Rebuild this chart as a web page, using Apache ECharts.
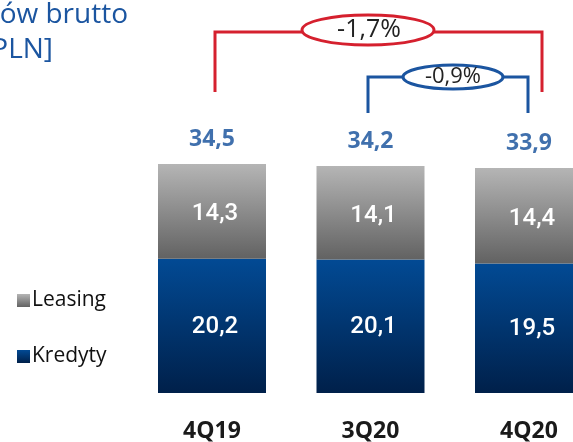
<!DOCTYPE html>
<html>
<head>
<meta charset="utf-8">
<script src="https://cdn.jsdelivr.net/npm/echarts@6/dist/echarts.min.js"></script>
<style>
html,body{margin:0;padding:0;background:#fff;}
#main{width:573px;height:442px;}
</style>
</head>
<body>
<div id="main"></div>
<script>
var categories = ['4Q19', '3Q20', '4Q20'];
var kredyty = [20.2, 20.1, 19.5];
var leasing = [14.3, 14.1, 14.4];
var totals = [34.5, 34.2, 33.9];
var changeAll = '-1,7%';
var changeQoQ = '-0,9%';

function fmt(v) { return v.toFixed(1).replace('.', ','); }

var chart = echarts.init(document.getElementById('main'));
var RED = '#d5202e', BLUE = '#1b55a0';

chart.setOption({
  animation: false,
  grid: { left: 132.75, width: 475.5, top: 61, height: 332, containLabel: false, outerBoundsMode: 'none' },
  xAxis: {
    type: 'category',
    data: categories,
    axisLine: { show: false },
    axisTick: { show: false },
    axisLabel: { margin: 27, fontSize: 23, fontWeight: 'bold', color: '#1a1a1a', fontFamily: 'Open Sans' }
  },
  yAxis: { type: 'value', min: 0, max: 50, show: false, splitLine: { show: false } },
  legend: {
    data: ['Leasing', 'Kredyty'],
    orient: 'vertical',
    left: 12, top: 285,
    itemWidth: 13, itemHeight: 13, itemGap: 35,
    icon: 'rect',
    textStyle: { fontSize: 21, color: '#111', fontFamily: 'Open Sans', padding: [0, 0, 0, -3] }
  },
  series: [
    {
      name: 'Kredyty', type: 'bar', stack: 'a', barWidth: 108,
      data: kredyty,
      itemStyle: { color: new echarts.graphic.LinearGradient(0, 0, 0, 1, [
        { offset: 0, color: '#024a94' }, { offset: 1, color: '#00204a' }]) },
      label: { show: true, position: 'inside', offset: [3, 1], color: '#fff', fontSize: 24, fontWeight: 500, fontFamily: 'Roboto',
        formatter: function (p) { return fmt(p.value); } }
    },
    {
      name: 'Leasing', type: 'bar', stack: 'a', barWidth: 108,
      data: leasing,
      itemStyle: { color: new echarts.graphic.LinearGradient(0, 0, 0, 1, [
        { offset: 0, color: '#b5b5b5' }, { offset: 1, color: '#626262' }]) },
      label: { show: true, position: 'inside', offset: [3, 3], color: '#fff', fontSize: 24, fontWeight: 500, fontFamily: 'Roboto',
        formatter: function (p) { return fmt(p.value); } }
    },
    {
      name: 'Suma', type: 'scatter', data: totals, symbolSize: 1,
      itemStyle: { color: 'rgba(0,0,0,0)' },
      label: { show: true, position: 'top', distance: 12, color: '#104c98', fontSize: 23, fontWeight: 'bold', fontFamily: 'Open Sans',
        formatter: function (p) { return fmt(p.value); } }
    }
  ],
  graphic: [
    { type: 'text', x: 128, y: 1, style: { text: 'Portfel kredytów brutto', fontSize: 28, fill: '#1b55a0', fontFamily: 'Open Sans', textAlign: 'right' } },
    { type: 'text', x: 53, y: 36, style: { text: '[mld PLN]', fontSize: 28, fill: '#1b55a0', fontFamily: 'Open Sans', textAlign: 'right' } },
    // red bracket
    { type: 'polyline', shape: { points: [[215, 92], [215, 32], [542, 32], [542, 92]] }, style: { stroke: RED, lineWidth: 3, fill: null } },
    { type: 'ellipse', shape: { cx: 368, cy: 30, rx: 66, ry: 15 }, style: { stroke: RED, lineWidth: 3, fill: '#fff' } },
    { type: 'text', x: 369, y: 30, style: { text: changeAll, fontSize: 25, fill: '#222', fontFamily: 'Open Sans', textAlign: 'center', textVerticalAlign: 'middle' } },
    // blue bracket
    { type: 'polyline', shape: { points: [[368, 113], [368, 77], [528, 77], [528, 113]] }, style: { stroke: BLUE, lineWidth: 3, fill: null } },
    { type: 'ellipse', shape: { cx: 453, cy: 77, rx: 50, ry: 12 }, style: { stroke: BLUE, lineWidth: 3, fill: '#fff' } },
    { type: 'text', x: 453, y: 77, style: { text: changeQoQ, fontSize: 22, fill: '#222', fontFamily: 'Open Sans', textAlign: 'center', textVerticalAlign: 'middle' } }
  ]
});
</script>
</body>
</html>
